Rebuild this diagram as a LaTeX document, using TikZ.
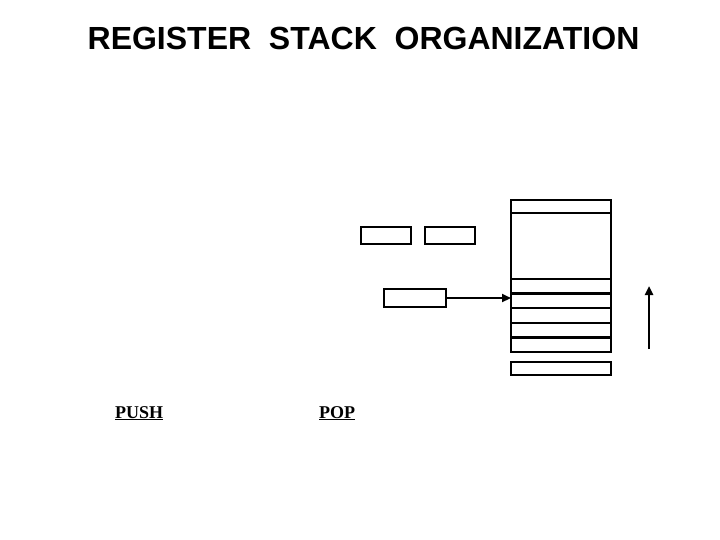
\documentclass[tikz,border=0pt]{standalone}
\usepackage{fontspec}
\setmainfont{Liberation Serif}
\newfontfamily\headfont{Liberation Sans}
\usetikzlibrary{positioning,arrows.meta}
\tikzset{
  cell/.style={draw, line width=2.4pt, minimum width=100pt, minimum height=14.6pt,
               inner sep=0pt, outer sep=0pt},
  reg/.style={draw, line width=2.4pt, minimum width=50pt, minimum height=17pt,
              inner sep=0pt, outer sep=0pt},
  lbl/.style={anchor=base west, inner sep=0pt, font=\fontsize{18}{18}\selectfont\bfseries}
}

\begin{document}
\begin{tikzpicture}[x=1pt, y=-1pt, > = {Triangle[length=9pt,width=8pt]}]
        \useasboundingbox (0,0) rectangle (720,540);

        % title
        \node[anchor=base, inner sep=0pt, font=\headfont\fontsize{32}{32}\selectfont\bfseries]
             (title) at (363.5,50) {REGISTER\ \ STACK\ \ ORGANIZATION};

        % stack
        \node[cell, minimum height=13pt] (top)  at (561,206.5) {};
        \node[cell, minimum height=66pt] (free) [below=0pt of top] {};
        \node[cell] (c1) [below=0pt of free] {};
        \node[cell] (c2) [below=0pt of c1] {};
        \node[cell] (c3) [below=0pt of c2] {};
        \node[cell] (c4) [below=0pt of c3] {};
        \node[cell] (c5) [below=0pt of c4] {};
        \node[cell, minimum height=13pt] (bot) at (561,368.5) {};

        % registers
        \node[reg] (fulla) at (386,235.5) {};
        \node[reg] (emptya) at (450,235.5) {};
        \node[reg, minimum width=62pt, minimum height=18pt] (dr) at (415,298) {};

        \draw[->, line width=2.4pt] (dr.east) -- (dr.east -| c2.west);

        % direction
        \coordinate (dirlow) at (649,349);
        \coordinate (dirhigh) at (649,286);
        \draw[->, line width=2.8pt] (dirlow) -- (dirhigh);

        \node[lbl] (push) at (115,418) {\underline{PUSH}};
        \node[lbl] (pop)  at (319,418) {\underline{POP}};
      \end{tikzpicture}
\end{document}
